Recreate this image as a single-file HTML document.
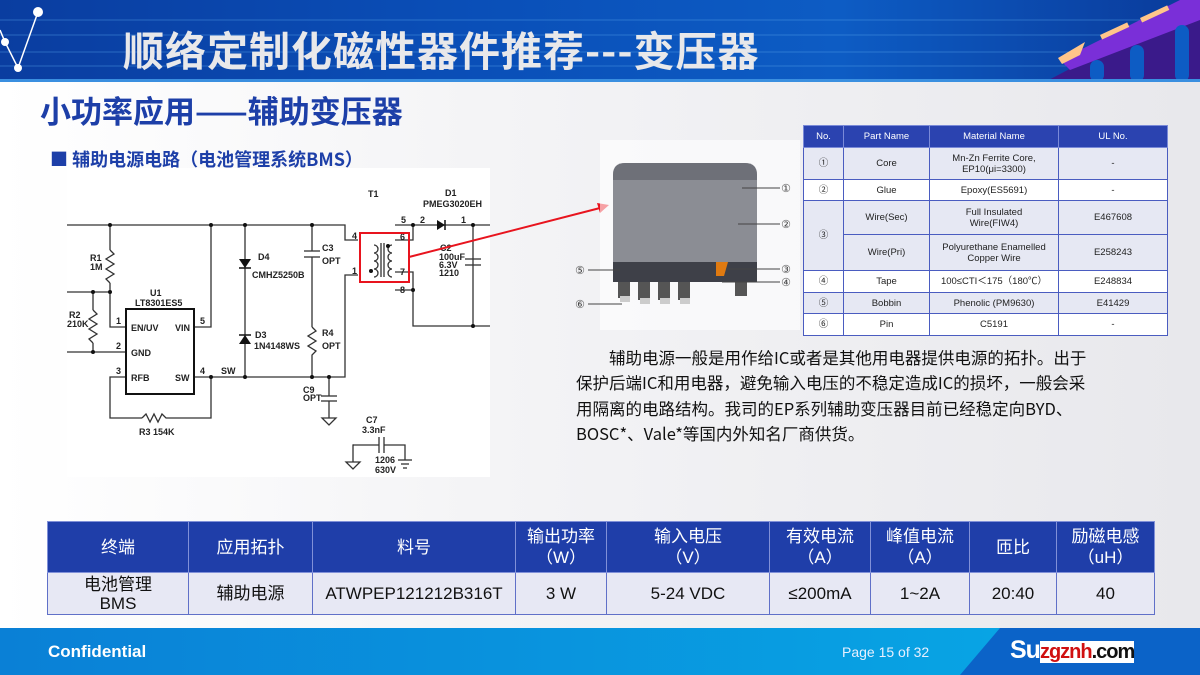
<!DOCTYPE html>
<html><head><meta charset="utf-8"><style>
*{margin:0;padding:0;box-sizing:border-box}
body{width:1200px;height:675px;overflow:hidden;position:relative;font-family:"Liberation Sans","Noto Sans CJK SC",sans-serif;background:linear-gradient(90deg,#fff 0%,#f4f4f6 40%,#e8e8ec 100%)}
.hdr{position:absolute;left:0;top:0;width:1200px;height:82px;background:linear-gradient(90deg,#0a3da0 0%,#0a4fb8 40%,#0d5cc4 70%,#0a3a9a 100%)}
.hdr:after{content:"";position:absolute;left:0;right:0;bottom:0;height:3px;background:#3a8fe0}
.ttl{position:absolute;left:123px;top:18px;font-size:41px;font-weight:bold;color:#e8e8ea;letter-spacing:1px;font-family:"Noto Sans CJK SC",sans-serif;white-space:nowrap}
.sub{position:absolute;left:40px;top:87px;font-size:31px;font-weight:bold;color:#1d3fa8;font-family:"Noto Sans CJK SC",sans-serif}
.bul{position:absolute;left:50px;top:146px;font-size:18px;font-weight:bold;color:#1d3fa8;font-family:"Noto Sans CJK SC",sans-serif;z-index:3}
table{border-collapse:collapse;position:absolute}
.t1{left:803px;top:125px;width:365px;font-size:9.5px;color:#222}
.t1 td{border:1px solid #4a5cc0;text-align:center;background:#e6e8f3;line-height:11px}
.t1 tr.w td{background:#fff}
.t1 th{background:#2b43b0;color:#fff;font-weight:normal;border:1px solid #7a8ad8;height:22px}
.t2{left:47px;top:521px;width:1108px;font-size:17px;color:#111}
.t2 th{background:#1f3ea9;color:#fff;font-weight:normal;border:1px solid #8090d8;height:51px;line-height:21px}
.t2 td{background:#e7e8f4;border:1px solid #6070c8;text-align:center;height:42px;line-height:19px}
.para{position:absolute;left:576px;top:345px;font-size:16.5px;line-height:25.3px;color:#111;font-family:"Noto Sans CJK SC",sans-serif;white-space:nowrap}
.ftr{position:absolute;left:0;top:628px;width:1200px;height:47px;background:#0b63c8}
.ftr .lt{position:absolute;left:0;top:0;height:47px;width:1000px;background:linear-gradient(90deg,#0a80d6,#08a4e4);clip-path:polygon(0 0,100% 0,96% 100%,0 100%)}
</style></head><body>
<div class="hdr">
<svg width="1200" height="82" style="position:absolute;left:0;top:0">
<g stroke="#5aa8ee" stroke-width="1" opacity=".4"><line x1="0" y1="20" x2="1200" y2="20"/><line x1="0" y1="35" x2="1200" y2="35"/><line x1="0" y1="52" x2="1200" y2="52"/><line x1="0" y1="66" x2="1200" y2="66"/></g>
<polyline points="0,30 5,42 18,68 38,12" fill="none" stroke="#fff" stroke-width="1.5"/>
<circle cx="5" cy="42" r="4" fill="#fff"/><circle cx="18" cy="68" r="4" fill="#fff"/><circle cx="38" cy="12" r="5" fill="#fff"/>
<polygon points="1045,82 1200,0 1200,82" fill="#3a1a8a"/>
<polygon points="1060,60 1200,-10 1200,20 1070,70" fill="#7a2fd8"/>
<polygon points="1058,58 1085,42 1080,55 1062,64" fill="#ffc58a"/>
<g fill="#ffc58a"><rect x="1100" y="35" width="30" height="5" transform="rotate(-25 1100 35)"/><rect x="1140" y="18" width="30" height="5" transform="rotate(-25 1140 18)"/></g>
<rect x="1090" y="60" width="14" height="22" rx="7" fill="#0d5cc4"/><rect x="1130" y="45" width="14" height="37" rx="7" fill="#0d5cc4"/><rect x="1175" y="25" width="14" height="57" rx="7" fill="#0d5cc4"/>
</svg>
<div class="ttl">顺络定制化磁性器件推荐---变压器</div>
</div>
<div class="sub">小功率应用——辅助变压器</div>
<div class="bul">■ 辅助电源电路（电池管理系统BMS）</div>

<svg width="1200" height="500" style="position:absolute;left:0;top:0" font-family="Liberation Sans,sans-serif" font-weight="bold" font-size="9" fill="#222">
<rect x="67" y="168" width="423" height="309" fill="#fff"/>
<g stroke="#333" stroke-width="1.3" fill="none">
<polyline points="67,225 345,225 345,240 358,240"/>
<line x1="110" y1="225" x2="110" y2="250"/><polyline points="110,250 114,254 106,259 114,264 106,269 114,274 106,279 110,283"/><polyline points="110,283 110,327 126,327"/>
<line x1="67" y1="292" x2="110" y2="292"/>
<line x1="93" y1="292" x2="93" y2="310"/><polyline points="93,310 97,314 89,319 97,324 89,329 97,334 89,339 93,343"/><line x1="93" y1="343" x2="93" y2="352"/>
<line x1="67" y1="352" x2="126" y2="352"/>
<polyline points="194,327 211,327 211,225"/>
<polyline points="194,377 345,377 345,275 358,275"/>
<polyline points="126,377 110,377 110,418 142,418"/><polyline points="142,418 146,414 150,422 154,414 158,422 162,414 166,418 211,418 211,377"/>
<line x1="245" y1="225" x2="245" y2="377"/>
<line x1="312" y1="225" x2="312" y2="251"/><line x1="304" y1="251" x2="320" y2="251"/><line x1="304" y1="257" x2="320" y2="257"/><line x1="312" y1="257" x2="312" y2="327"/>
<polyline points="312,327 316,331 308,336 316,341 308,346 316,351 312,355 312,377"/>
<line x1="329" y1="377" x2="329" y2="396"/><line x1="321" y1="396" x2="337" y2="396"/><line x1="321" y1="401" x2="337" y2="401"/><line x1="329" y1="401" x2="329" y2="418"/><polygon points="322,418 336,418 329,425"/>
<polyline points="395,225 413,225 413,240 395,240"/><polyline points="395,272 413,272 413,290 395,290"/>
<polyline points="413,225 490,225"/><line x1="473" y1="225" x2="473" y2="326"/><polyline points="413,290 413,326 490,326"/>
<line x1="465" y1="259" x2="481" y2="259"/><line x1="465" y1="265" x2="481" y2="265"/>
<path d="M374,245 a4,4 0 0 1 0,8 a4,4 0 0 1 0,8 a4,4 0 0 1 0,8 a4,4 0 0 1 0,8"/>
<path d="M392,245 a4,4 0 0 0 0,8 a4,4 0 0 0 0,8 a4,4 0 0 0 0,8 a4,4 0 0 0 0,8"/>
<line x1="381" y1="243" x2="381" y2="277"/><line x1="384" y1="243" x2="384" y2="277"/>
<polyline points="354,445 353,445 353,462"/><line x1="353" y1="445" x2="379" y2="445"/><line x1="379" y1="437" x2="379" y2="453"/><line x1="384" y1="437" x2="384" y2="453"/><polyline points="384,445 405,445 405,460"/>
<polygon points="346,462 360,462 353,469"/>
<line x1="398" y1="460" x2="412" y2="460"/><line x1="401" y1="464" x2="409" y2="464"/><line x1="403" y1="468" x2="407" y2="468"/>
</g>
<rect x="126" y="309" width="68" height="85" fill="none" stroke="#111" stroke-width="2"/>
<polygon points="239,259 251,259 245,268" fill="#111"/><line x1="239" y1="268" x2="251" y2="268" stroke="#111" stroke-width="1.5"/>
<polygon points="239,344 251,344 245,335" fill="#111"/><line x1="239" y1="335" x2="251" y2="335" stroke="#111" stroke-width="1.5"/>
<polygon points="437,220 437,230 445,225" fill="#111"/><line x1="445" y1="220" x2="445" y2="230" stroke="#111" stroke-width="1.5"/>
<g fill="#111"><circle cx="110" cy="225" r="2"/><circle cx="211" cy="225" r="2"/><circle cx="245" cy="225" r="2"/><circle cx="312" cy="225" r="2"/><circle cx="110" cy="292" r="2"/><circle cx="93" cy="292" r="2"/><circle cx="93" cy="352" r="2"/><circle cx="211" cy="377" r="2"/><circle cx="245" cy="377" r="2"/><circle cx="312" cy="377" r="2"/><circle cx="329" cy="377" r="2"/><circle cx="413" cy="225" r="2"/><circle cx="473" cy="225" r="2"/><circle cx="413" cy="290" r="2"/><circle cx="473" cy="326" r="2"/><circle cx="388" cy="246" r="2"/><circle cx="371" cy="271" r="2"/></g>
<text x="90" y="261">R1</text><text x="90" y="270">1M</text>
<text x="69" y="318">R2</text><text x="67" y="327">210K</text>
<text x="150" y="296">U1</text><text x="135" y="306">LT8301ES5</text>
<text x="131" y="331">EN/UV</text><text x="175" y="331">VIN</text><text x="131" y="356">GND</text><text x="131" y="381">RFB</text><text x="175" y="381">SW</text>
<text x="116" y="324">1</text><text x="116" y="349">2</text><text x="116" y="374">3</text><text x="200" y="324">5</text><text x="200" y="374">4</text><text x="221" y="374">SW</text>
<text x="139" y="435">R3  154K</text>
<text x="258" y="260">D4</text><text x="252" y="278">CMHZ5250B</text>
<text x="255" y="338">D3</text><text x="254" y="349">1N4148WS</text>
<text x="322" y="251">C3</text><text x="322" y="264">OPT</text><text x="322" y="336">R4</text><text x="322" y="349">OPT</text>
<text x="303" y="393">C9</text><text x="303" y="401">OPT</text>
<text x="366" y="423">C7</text><text x="362" y="433">3.3nF</text><text x="375" y="463">1206</text><text x="375" y="473">630V</text>
<text x="368" y="197">T1</text><text x="445" y="196">D1</text><text x="423" y="207">PMEG3020EH</text>
<text x="401" y="223">5</text><text x="420" y="223">2</text><text x="461" y="223">1</text><text x="400" y="240">6</text><text x="400" y="275">7</text><text x="400" y="293">8</text><text x="352" y="239">4</text><text x="352" y="274">1</text>
<text x="440" y="251">C2</text><text x="439" y="260">100uF</text><text x="439" y="268">6.3V</text><text x="439" y="276">1210</text>
<rect x="360" y="233" width="49" height="49" fill="none" stroke="#e8141e" stroke-width="2"/>
<line x1="409" y1="257" x2="600" y2="208" stroke="#e8141e" stroke-width="2"/><polygon points="609,205 597,203 600,213" fill="#e8141e"/>
<rect x="600" y="140" width="200" height="190" fill="#fff" opacity=".6"/>
<path d="M613,265 L613,175 Q613,163 625,163 L745,163 Q757,163 757,175 L757,265 Z" fill="#8b8d94"/>
<path d="M613,175 Q613,163 625,163 L745,163 Q757,163 757,175 L757,180 L613,180Z" fill="#6e7078"/>
<rect x="613" y="262" width="144" height="20" fill="#3e4048"/>
<polygon points="716,262 728,262 724,276 716,276" fill="#e07a10"/>
<g fill="#555"><rect x="618" y="282" width="12" height="16"/><rect x="638" y="282" width="12" height="18"/><rect x="658" y="282" width="12" height="18"/><rect x="678" y="282" width="12" height="18"/><rect x="735" y="282" width="12" height="14"/></g>
<g fill="#ccc"><rect x="620" y="296" width="10" height="6"/><rect x="640" y="298" width="10" height="6"/><rect x="660" y="298" width="10" height="6"/><rect x="680" y="298" width="10" height="6"/></g>
<g stroke="#444" stroke-width="1"><line x1="742" y1="188" x2="780" y2="188"/><line x1="738" y1="224" x2="780" y2="224"/><line x1="726" y1="269" x2="780" y2="269"/><line x1="722" y1="282" x2="780" y2="282"/><line x1="588" y1="270" x2="620" y2="270"/><line x1="588" y1="304" x2="622" y2="304"/></g>
<g font-weight="normal" font-size="11" fill="#444" font-family="DejaVu Sans,sans-serif"><text x="781" y="192">①</text><text x="781" y="228">②</text><text x="781" y="273">③</text><text x="781" y="286">④</text><text x="575" y="274">⑤</text><text x="575" y="308">⑥</text></g>
</svg>

<table class="t1">
<tr><th style="width:40px">No.</th><th style="width:86px">Part Name</th><th style="width:129px">Material Name</th><th>UL No.</th></tr>
<tr><td style="height:32px">①</td><td>Core</td><td>Mn-Zn Ferrite Core,<br>EP10(μi=3300)</td><td>-</td></tr>
<tr class="w"><td style="height:21px">②</td><td>Glue</td><td>Epoxy(ES5691)</td><td>-</td></tr>
<tr><td rowspan="2">③</td><td style="height:34px">Wire(Sec)</td><td>Full Insulated<br>Wire(FIW4)</td><td>E467608</td></tr>
<tr><td style="height:36px">Wire(Pri)</td><td>Polyurethane Enamelled<br>Copper Wire</td><td>E258243</td></tr>
<tr class="w"><td style="height:22px">④</td><td>Tape</td><td>100≤CTI＜175（180℃）</td><td>E248834</td></tr>
<tr><td style="height:21px">⑤</td><td>Bobbin</td><td>Phenolic (PM9630)</td><td>E41429</td></tr>
<tr class="w"><td style="height:22px">⑥</td><td>Pin</td><td>C5191</td><td>-</td></tr>
</table>

<div class="para">　　辅助电源一般是用作给IC或者是其他用电器提供电源的拓扑。出于<br>保护后端IC和用电器，避免输入电压的不稳定造成IC的损坏，一般会采<br>用隔离的电路结构。我司的EP系列辅助变压器目前已经稳定向BYD、<br>BOSC*、Vale*等国内外知名厂商供货。</div>

<table class="t2">
<tr><th style="width:141px">终端</th><th style="width:124px">应用拓扑</th><th style="width:203px">料号</th><th style="width:91px">输出功率<br>（W）</th><th style="width:163px">输入电压<br>（V）</th><th style="width:101px">有效电流<br>（A）</th><th style="width:99px">峰值电流<br>（A）</th><th style="width:87px">匝比</th><th>励磁电感<br>（uH）</th></tr>
<tr><td>电池管理<br>BMS</td><td>辅助电源</td><td>ATWPEP121212B316T</td><td>3 W</td><td>5-24 VDC</td><td>≤200mA</td><td>1~2A</td><td>20:40</td><td>40</td></tr>
</table>

<div class="ftr"><div class="lt"></div>
<div style="position:absolute;left:48px;top:14px;color:#fff;font-weight:bold;font-size:17px">Confidential</div>
<div style="position:absolute;left:842px;top:16px;color:#e8f0ff;font-size:14px">Page 15 of 32</div>
<div style="position:absolute;left:1010px;top:8px;color:#fff;font-weight:bold;font-size:25px;letter-spacing:-1px">Su<span style="font-size:20px;color:#d01010;background:#fff">zgznh</span><span style="font-size:20px;color:#111;background:#fff">.com</span></div>
</div>
</body></html>
